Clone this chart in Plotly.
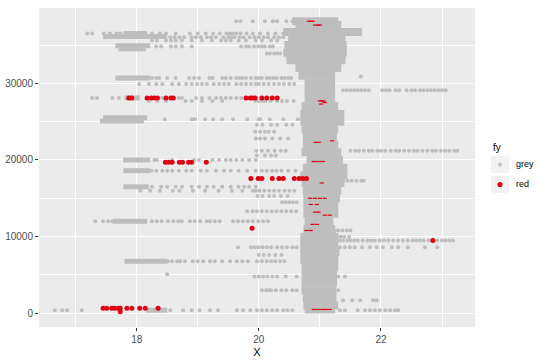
import plotly.graph_objects as go

# ---------------- data ----------------
# sparse grey points, one list of X values per horizontal band (band Y in name)
r38100 = [19.63, 19.7, 19.9, 20.1, 20.23, 20.3, 20.45, 20.55]
r36500 = [17.19, 17.27, 17.46, 17.56, 17.67, 17.73, 18.25, 18.38, 18.48, 18.64, 18.87, 19.0, 19.13,
          19.25, 19.36, 19.47, 19.52, 19.57, 19.63, 19.7, 19.8, 19.9, 20.02, 20.15, 20.27, 20.4]
r36000 = [18.55, 18.62, 18.7, 18.78, 18.9, 18.97, 19.05, 19.15, 19.22, 19.3, 19.42, 19.5, 19.55,
          19.6, 19.68, 19.75, 19.85, 19.93, 20.0, 20.08, 20.15, 20.25, 20.33, 20.4]
r35600 = [18.25, 18.33, 18.48, 18.56, 18.64, 18.74, 18.9, 19.07, 19.23, 19.38, 19.46, 19.54, 19.67,
          19.79, 19.95, 20.05, 20.2, 20.3]
r34800 = [18.32, 18.4, 18.56, 18.64, 18.74, 18.9, 19.71, 19.79, 19.84, 19.92, 19.99, 20.05, 20.1,
          20.18, 20.23]
r33900 = [20.13, 20.18, 20.25, 20.3, 20.35]
r30900 = [21.67]
r30700 = [18.25, 18.32, 18.37, 18.5, 18.64, 18.86, 18.94, 19.02, 19.19, 19.24, 19.4, 19.46, 19.54,
          19.63, 19.68, 19.73, 19.79, 19.87, 19.95, 20.0, 20.05, 20.13, 20.18, 20.24, 20.29, 20.37,
          20.42, 20.48, 20.53]
r29900 = [18.04, 18.2, 18.32, 18.42, 18.58, 18.69, 18.81, 18.9, 18.99, 19.07, 19.15, 19.26, 19.35,
          19.43, 19.51, 19.63, 19.71, 19.79, 19.87, 19.95, 20.0, 20.08, 20.16, 20.25, 20.33, 20.41,
          20.5, 20.58]
r29100 = [21.38, 21.44, 21.5, 21.56, 21.62, 21.68, 21.74, 21.8, 22.02, 22.08, 22.14, 22.24, 22.3,
          22.42, 22.5, 22.56, 22.64, 22.7, 22.76, 22.82, 22.88, 22.94, 23.0, 23.06]
r28100 = [17.27, 17.35, 17.6, 17.71, 18.32, 18.42, 18.69, 18.74, 18.97, 19.07, 19.19, 19.3, 19.38,
          19.46, 19.54, 19.63, 19.71]
r27700 = [18.2, 18.34, 18.48, 18.8, 18.9, 19.07, 19.24, 19.4, 19.95, 20.0, 20.06, 20.11, 20.19,
          20.3, 20.38, 20.46, 20.57]
r25300 = [18.46, 18.9, 18.95, 19.12, 19.25, 19.4, 19.58, 19.81, 20.0, 20.02, 20.18, 20.4, 20.64]
r24600 = [19.97, 20.06, 20.2, 20.3, 20.45, 20.55]
r23700 = [19.94, 20.02, 20.1, 20.16, 20.25]
r22800 = [19.95, 20.02, 20.1, 20.22, 20.35, 20.48]
r21200 = [19.96, 20.05, 20.15, 20.26, 20.36, 20.44, 21.5, 21.58, 21.64, 21.72, 21.8, 21.86, 21.94,
          22.0, 22.07, 22.16, 22.24, 22.3, 22.38, 22.46, 22.54, 22.6, 22.68, 22.76, 22.84, 22.9,
          22.98, 23.05, 23.12, 23.2, 23.25]
r20600 = [19.97, 20.1, 20.2, 20.28]
r20000 = [18.29, 18.33, 18.58, 18.94, 19.02, 19.24, 19.35, 19.46, 19.54, 19.63, 19.73, 19.84, 19.95]
r18600 = [18.24, 18.32, 18.42, 18.5, 18.58, 18.69, 18.81, 18.9, 19.05, 19.15, 19.3, 19.43, 19.54,
          19.67, 19.81, 19.95, 20.05, 20.13, 20.22, 20.29, 20.37, 20.48, 20.6]
r17300 = [21.38, 21.45, 21.52, 21.6, 21.68, 21.72]
r16500 = [18.25, 18.4, 18.5, 18.64, 18.74, 18.9, 19.02, 19.15, 19.26, 19.4, 19.54, 19.67, 19.76,
          19.84, 19.95]
r16000 = [18.06, 18.22, 18.38, 18.59, 18.7, 18.92, 19.12, 19.34, 19.56, 19.73, 19.9, 19.95, 20.01,
          20.09, 20.17, 20.25, 20.33, 20.42, 20.5, 20.58]
r15300 = [19.98, 20.06, 20.17, 20.25, 20.36, 20.47]
r14500 = [20.38, 20.44, 20.5, 20.56, 20.62]
r13300 = [19.81, 19.9, 19.97, 20.05, 20.13, 20.21, 20.29, 20.37, 20.45, 20.53, 20.61]
r12000 = [17.32, 17.45, 17.53, 17.6, 18.25, 18.33, 18.41, 18.51, 18.6, 18.68, 18.74, 18.87, 18.95,
          19.04, 19.15, 19.2, 19.28, 19.36, 19.58, 19.66, 19.74, 19.82, 19.9, 19.99, 20.07, 20.15]
r10800 = [21.25, 21.3, 21.37, 21.44, 21.5]
r10000 = [21.28, 21.34, 21.4, 21.48]
r9500 = [21.26, 21.32, 21.38, 21.45, 21.5, 21.56, 21.62, 21.7, 21.78, 21.84, 21.9, 21.98, 22.05,
         22.12, 22.2, 22.28, 22.36, 22.44, 22.52, 22.58, 22.64, 22.7, 22.78, 22.86, 22.92, 23.0,
         23.06, 23.12, 23.18]
r8600 = [19.66, 19.87, 19.93, 19.99, 20.06, 20.13, 20.2, 20.3, 20.38, 20.46, 20.55, 20.62, 21.33,
         21.41, 21.49, 21.57, 21.69, 21.82, 21.93, 22.03, 22.18, 22.28, 22.44, 22.72, 22.92]
r7600 = [20.0, 20.08, 20.17, 20.27, 20.37]
r6800 = [18.51, 18.58, 18.66, 18.71, 18.79, 18.92, 19.0, 19.09, 19.2, 19.28, 19.4, 19.53, 19.64,
         19.73, 19.82, 19.97, 20.05, 20.13, 20.2, 20.27, 20.35, 20.42]
r5100 = [18.5]
r4800 = [19.93, 20.0, 20.07, 20.14, 20.22, 20.3, 20.44, 20.62, 21.3, 21.41]
r3000 = [20.05, 20.12, 20.17, 20.2, 20.28, 20.37, 20.45, 20.55, 20.62, 21.3]
r1700 = [21.38, 21.53, 21.66, 21.87, 21.93]
r400 = [16.66, 16.78, 16.86, 17.1, 18.55, 18.76, 18.9, 19.03, 19.2, 19.33, 19.64, 19.74, 19.86,
        19.97, 20.05, 20.13, 20.22, 20.3, 20.4, 20.47, 20.55, 21.33, 21.41, 21.62, 21.74, 21.82,
        21.9, 21.98, 22.07, 22.15, 22.23, 22.28]

# dense grey runs of overlapping points: band Y, first X, last X
dense_y = [36500, 36100, 34900, 34500, 30700, 28100, 25500, 25100, 20000, 18600, 16500, 12000, 6800, 400]
dense_x0 = [17.78, 17.45, 17.65, 17.7, 17.65, 17.8, 17.45, 17.4, 17.78, 17.78, 17.78, 17.61, 17.8, 18.15]
dense_x1 = [18.17, 18.5, 18.22, 18.15, 18.22, 18.05, 18.17, 18.12, 18.22, 18.22, 18.2, 18.17, 18.5, 18.5]

# the dense column of grey points near X = 21: band Y, left X, right X
col_y = [38100, 37600, 36700, 36000, 35000, 34000, 33000, 32000, 31000, 30000, 29000, 28000, 27000,
         26000, 25000, 24000, 23000, 22000, 21000, 20000, 19000, 18000, 17000, 16000, 15000, 14000,
         13000, 12000, 11000, 10000, 9000, 8000, 7000, 6000, 5000, 4000, 3000, 2000, 1000, 500]
col_x0 = [20.55, 20.6, 20.4, 20.48, 20.42, 20.4, 20.45, 20.6, 20.65, 20.75, 20.75, 20.75, 20.7,
          20.68, 20.68, 20.7, 20.72, 20.72, 20.7, 20.78, 20.72, 20.68, 20.7, 20.72, 20.73, 20.73,
          20.73, 20.75, 20.73, 20.68, 20.68, 20.68, 20.68, 20.7, 20.7, 20.7, 20.7, 20.72, 20.73, 20.75]
col_x1 = [21.3, 21.35, 21.69, 21.42, 21.44, 21.44, 21.42, 21.35, 21.25, 21.25, 21.25, 21.25, 21.3,
          21.4, 21.4, 21.3, 21.28, 21.3, 21.35, 21.38, 21.45, 21.45, 21.4, 21.35, 21.33, 21.3,
          21.3, 21.22, 21.25, 21.3, 21.3, 21.32, 21.3, 21.3, 21.28, 21.28, 21.27, 21.27, 21.3, 21.25]

# red points
red28100 = [17.87, 17.92, 18.17, 18.24, 18.29, 18.34, 18.48, 18.56, 18.6, 19.79, 19.86, 19.9, 19.94,
            20.05, 20.13, 20.22, 20.3]
red19700 = [18.47, 18.52, 18.58, 18.7, 18.75, 18.85, 18.9, 19.14]
red17600 = [19.87, 19.99, 20.05, 20.22, 20.33, 20.4, 20.58, 20.66, 20.72, 20.78]
red650 = [17.45, 17.51, 17.59, 17.64, 17.7, 17.73, 17.84, 17.92, 18.05, 18.14, 18.35]
red_other_x = [19.89, 22.85, 17.73]
red_other_y = [11100, 9500, 200]
# red points lying inside the grey column (mostly hidden, drawn small)
red_col_x = [20.82, 20.85, 20.88, 20.92, 20.97, 21.0, 21.0, 21.03, 21.06, 21.08, 21.02, 20.93, 20.98,
             21.2, 20.9, 20.94, 20.98, 21.02, 21.05, 21.03, 20.84, 20.92, 21.0, 21.08, 20.85, 20.95,
             20.92, 20.98, 21.08, 21.16, 20.88, 20.95, 20.78, 20.85, 20.9, 20.97, 21.04, 21.1, 21.16]
red_col_y = [38100, 38100, 38100, 37600, 37600, 37600, 27700, 27700, 27700, 27500, 27300, 22300, 22300,
             22500, 19800, 19800, 19800, 19800, 19800, 17000, 15000, 15000, 15000, 15000, 14200, 14200,
             13200, 13200, 12800, 12800, 11600, 11600, 10800, 10800, 500, 500, 500, 500, 500]

x_ticks = [18, 20, 22]
y_ticks = [0, 10000, 20000, 30000]
y_tick_text = ["0", "10000", "20000", "30000"]
legend_title = "fy"
levels = ["grey", "red"]

# ---------------- assemble ----------------
grey_rows = [
    (38100, r38100), (36500, r36500), (36000, r36000), (35600, r35600), (34800, r34800),
    (33900, r33900), (30900, r30900), (30700, r30700), (29900, r29900), (29100, r29100),
    (28100, r28100), (27700, r27700), (25300, r25300), (24600, r24600), (23700, r23700),
    (22800, r22800), (21200, r21200), (20600, r20600), (20000, r20000), (18600, r18600),
    (17300, r17300), (16500, r16500), (16000, r16000), (15300, r15300), (14500, r14500),
    (13300, r13300), (12000, r12000), (10800, r10800), (10000, r10000), (9500, r9500),
    (8600, r8600), (7600, r7600), (6800, r6800), (5100, r5100), (4800, r4800), (3000, r3000),
    (1700, r1700), (400, r400),
]
gx, gy = [], []
for yv, xs in grey_rows:
    gx += xs
    gy += [yv] * len(xs)

def runs(ys, x0s, x1s):
    xs, yy = [], []
    for yv, a, b in zip(ys, x0s, x1s):
        xs += [a, b, None]
        yy += [yv, yv, None]
    return xs, yy

dx, dy = runs(dense_y, dense_x0, dense_x1)
cx, cy = runs(col_y, col_x0, col_x1)

rx = red28100 + red19700 + red17600 + red650 + red_other_x
ry = ([28100] * len(red28100) + [19700] * len(red19700) + [17600] * len(red17600)
      + [650] * len(red650) + red_other_y)

GREY = "#BEBEBE"
RED = "#E00012"

fig = go.Figure()
fig.add_trace(go.Scatter(x=cx, y=cy, mode="lines", line=dict(color=GREY, width=8),
                         showlegend=False, hoverinfo="skip"))
fig.add_trace(go.Scatter(x=dx, y=dy, mode="lines", line=dict(color=GREY, width=5),
                         showlegend=False, hoverinfo="skip"))
fig.add_trace(go.Scatter(x=gx, y=gy, mode="markers", name=levels[0], showlegend=False,
                         marker=dict(color=GREY, size=4)))
fig.add_trace(go.Scatter(x=rx, y=ry, mode="markers", name=levels[1], showlegend=False,
                         marker=dict(color=RED, size=5)))
fig.add_trace(go.Scatter(x=red_col_x, y=red_col_y, mode="markers", showlegend=False,
                         marker=dict(color=RED, size=3, symbol="line-ew-open",
                                     line=dict(color=RED, width=1.2))))

# ---------------- legend (ggplot style, placed in paper coordinates) ----------------
PW, PH, PL, PB = 436.0, 319.0, 39.0, 327.0   # panel size / left / bottom in pixels
def px_x(px):
    return (px - PL) / PW
def px_y(py):
    return (PB - py) / PH

fig.add_annotation(text=legend_title, xref="paper", yref="paper", x=px_x(491), y=px_y(147),
                   xanchor="left", yanchor="middle", showarrow=False,
                   font=dict(size=10, color="black"))
for lvl, col, rad, cy_px in [(levels[0], GREY, 1.9, 164.5), (levels[1], RED, 2.6, 184.5)]:
    fig.add_shape(type="rect", xref="paper", yref="paper",
                  x0=px_x(491), x1=px_x(509), y0=px_y(cy_px + 8.5), y1=px_y(cy_px - 8.5),
                  fillcolor="#F2F2F2", line=dict(width=0))
    fig.add_shape(type="circle", xref="paper", yref="paper",
                  x0=px_x(500 - rad), x1=px_x(500 + rad), y0=px_y(cy_px + rad), y1=px_y(cy_px - rad),
                  fillcolor=col, line=dict(width=0))
    fig.add_annotation(text=lvl, xref="paper", yref="paper", x=px_x(514), y=px_y(cy_px),
                       xanchor="left", yanchor="middle", showarrow=False,
                       font=dict(size=9, color="black"))

fig.update_layout(
    width=540, height=361,
    margin=dict(l=39, r=65, t=8, b=34, autoexpand=False),
    paper_bgcolor="white", plot_bgcolor="#EBEBEB",
    font=dict(family="Liberation Sans, Arial, sans-serif", color="#4D4D4D", size=10),
    showlegend=False,
)
fig.update_xaxes(range=[16.40, 23.54], tickvals=x_ticks, ticks="outside", ticklen=3,
                 tickcolor="#333333", showgrid=True, gridcolor="white", gridwidth=1.1,
                 zeroline=False, showline=False, automargin=False,
                 minor=dict(dtick=1, tick0=17, showgrid=True, gridcolor="white", gridwidth=0.5),
                 title=dict(text="X", font=dict(size=11, color="black"), standoff=4))
fig.update_yaxes(range=[-1790, 39830], tickvals=y_ticks, ticktext=y_tick_text, ticks="outside",
                 ticklen=3, tickcolor="#333333", showgrid=True, gridcolor="white", gridwidth=1.1,
                 zeroline=False, showline=False, automargin=False,
                 minor=dict(dtick=5000, tick0=5000, showgrid=True, gridcolor="white", gridwidth=0.5))

fig.write_html("out.html", config={"displayModeBar": False},
               post_script="document.body.style.margin='0';document.body.style.overflow='hidden';")
